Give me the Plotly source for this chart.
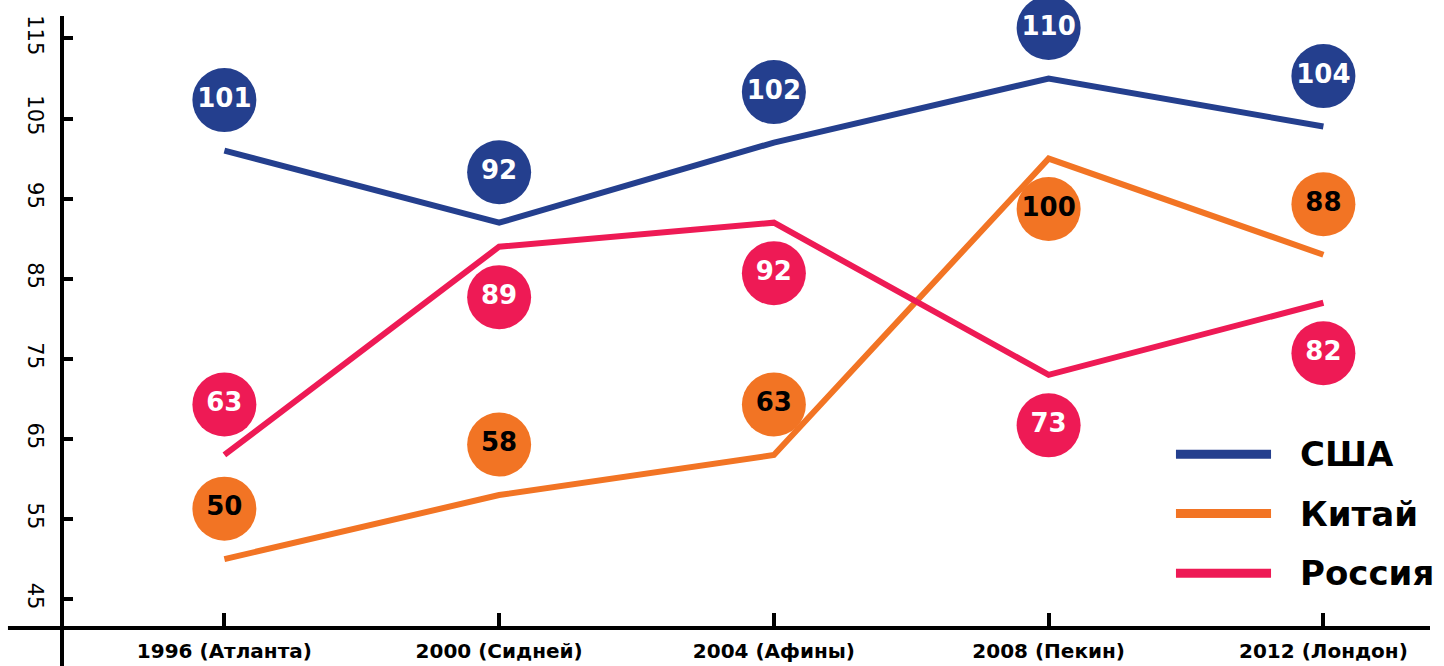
import plotly.graph_objects as go

# ---- data ----
categories = ["1996 (Атланта)", "2000 (Сидней)", "2004 (Афины)", "2008 (Пекин)", "2012 (Лондон)"]
usa = [101, 92, 102, 110, 104]
china = [50, 58, 63, 100, 88]
russia = [63, 89, 92, 73, 82]
series_names = ["США", "Китай", "Россия"]
y_ticks = [45, 55, 65, 75, 85, 95, 105, 115]

# label placement (+1 above the line, -1 below)
usa_side = [1, 1, 1, 1, 1]
china_side = [1, 1, 1, -1, 1]
russia_side = [1, -1, -1, -1, -1]
LABEL_OFFSET = 6.3

# ---- style ----
COLORS = ["#243F8E", "#F27424", "#EE1A55"]
TEXT_COLORS = ["white", "black", "white"]
FONT = "DejaVu Sans"

fig = go.Figure()
all_vals = [usa, china, russia]
all_sides = [usa_side, china_side, russia_side]

for name, vals, col in zip(series_names, all_vals, COLORS):
    fig.add_trace(go.Scatter(
        x=categories, y=vals, mode="lines", name=name,
        line=dict(color=col, width=6), showlegend=False, hoverinfo="skip"))

for name, vals, sides, col, tcol in zip(series_names, all_vals, all_sides, COLORS, TEXT_COLORS):
    fig.add_trace(go.Scatter(
        x=categories, y=[v + s * LABEL_OFFSET for v, s in zip(vals, sides)],
        mode="markers+text", text=[str(v) for v in vals], textposition="middle center",
        textfont=dict(family=FONT, size=26, color=tcol, weight="bold"),
        marker=dict(size=64, color=col, line=dict(width=0)),
        cliponaxis=False,
        showlegend=False, name=name, hoverinfo="skip"))

# custom legend (long line samples)
legend_y = [0.2838, 0.1869, 0.0895]
shapes = []
annotations = []
for name, col, ly in zip(series_names, COLORS, legend_y):
    shapes.append(dict(type="line", xref="paper", yref="paper", x0=0.8143, x1=0.8838,
                       y0=ly, y1=ly, line=dict(color=col, width=9)))
    annotations.append(dict(xref="paper", yref="paper", x=0.9035, y=ly, text=name,
                            showarrow=False, xanchor="left", yanchor="middle",
                            font=dict(family=FONT, size=34, color="black", weight="bold")))

# axis lines crossing beyond each other
shapes.append(dict(type="line", xref="paper", yref="paper", x0=0, x1=0, y0=-0.07, y1=1,
                   line=dict(color="black", width=4)))
shapes.append(dict(type="line", xref="paper", yref="paper", x0=-0.0395, x1=1, y0=0, y1=0,
                   line=dict(color="black", width=4)))

fig.update_layout(
    width=1444, height=666,
    margin=dict(l=62, r=14, t=16, b=38, autoexpand=False),
    paper_bgcolor="white", plot_bgcolor="white",
    shapes=shapes, annotations=annotations,
    showlegend=False,
    xaxis=dict(type="category", range=[-0.591, 4.388], showgrid=False, zeroline=False,
               showline=False, ticks="inside", ticklen=15, tickwidth=4, tickcolor="black",
               automargin=False, ticklabelstandoff=9,
               tickfont=dict(family=FONT, size=20, color="black", weight="bold")),
    yaxis=dict(range=[41.4, 117.8], tickvals=y_ticks, showgrid=False, zeroline=False,
               showline=False, ticks="inside", ticklen=11, tickwidth=4, tickcolor="black",
               tickangle=90, automargin=False, ticklabelstandoff=12,
               tickfont=dict(family=FONT, size=21, color="black")),
)

fig.write_html("out.html", config={"displayModeBar": False},
               post_script="document.body.style.margin='0';document.body.style.overflow='hidden';")
